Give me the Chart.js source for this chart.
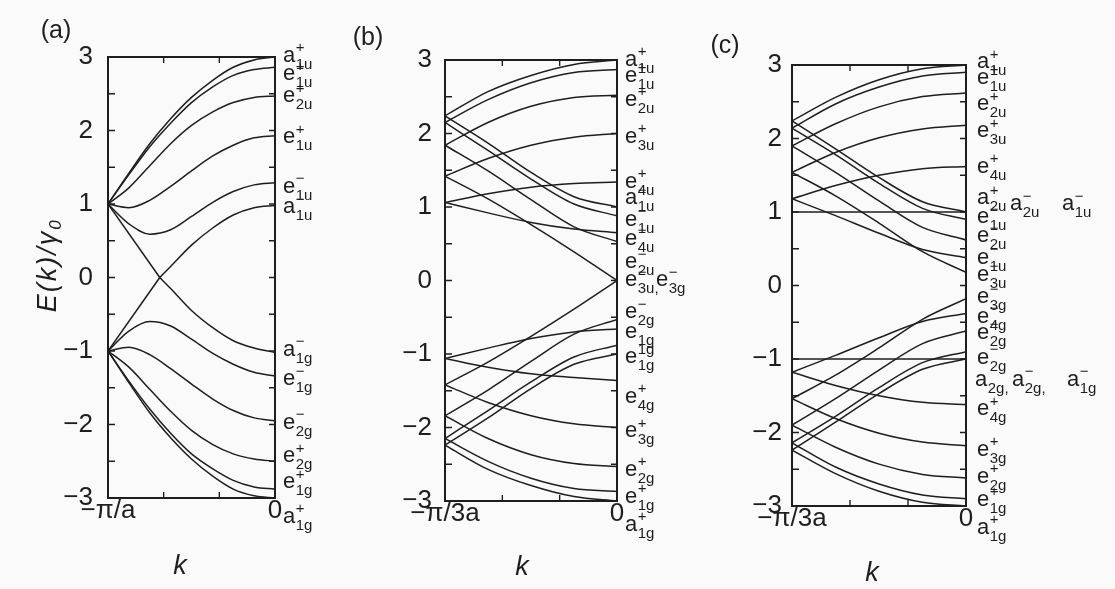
<!DOCTYPE html>
<html>
<head>
<meta charset="utf-8">
<script src="https://cdn.jsdelivr.net/npm/chart.js@4.4.1/dist/chart.umd.min.js"></script>
<style>
  html, body { margin: 0; padding: 0; background: #fafafa; }
  #wrap { position: relative; width: 1115px; height: 589px; overflow: hidden; }
  canvas { position: absolute; top: 0; }
</style>
</head>
<body>
<div id="wrap">
  <canvas id="panelA" width="345" height="589" style="left:0px;width:345px;height:589px"></canvas>
  <canvas id="panelB" width="370" height="589" style="left:345px;width:370px;height:589px"></canvas>
  <canvas id="panelC" width="415" height="589" style="left:700px;width:415px;height:589px"></canvas>
</div>
<script>
// ---- panel (a): k from -pi/a to 0 ----
const kA = [-1, -0.875, -0.75, -0.625, -0.5, -0.375, -0.25, -0.125, 0];
const a_a1uP = [1, 1.42, 1.82, 2.16, 2.45, 2.68, 2.86, 2.96, 3.0];
const a_e1uP = [1, 1.40, 1.78, 2.10, 2.38, 2.59, 2.75, 2.83, 2.86];
const a_e2uP = [1, 1.22, 1.52, 1.82, 2.07, 2.25, 2.38, 2.45, 2.47];
const a_e1uP2 = [1, 0.95, 1.05, 1.24, 1.45, 1.65, 1.8, 1.9, 1.93];
const a_e1uM = [1, 0.73, 0.59, 0.65, 0.83, 1.02, 1.17, 1.26, 1.29];
const a_a1gP = [-1, -1.43, -1.84, -2.18, -2.47, -2.7, -2.88, -2.97, -3.0];
const a_e1gP = [-1, -1.41, -1.79, -2.12, -2.4, -2.6, -2.76, -2.85, -2.88];
const a_e2gP = [-1, -1.22, -1.52, -1.82, -2.08, -2.27, -2.4, -2.47, -2.5];
const a_e2gM = [-1, -0.95, -1.05, -1.24, -1.45, -1.65, -1.81, -1.91, -1.95];
const a_e1gM = [-1, -0.73, -0.6, -0.66, -0.84, -1.03, -1.18, -1.29, -1.34];
// the two bands touching zero (split at the corner)
const kAv = [-1, -0.69];
const a_a1uM_in = [1, 0];
const a_a1gM_in = [-1, 0];
const kAw = [-0.69, -0.625, -0.5, -0.375, -0.25, -0.125, 0];
const a_a1uM = [0, 0.15, 0.44, 0.67, 0.85, 0.95, 0.98];
const a_a1gM = [0, -0.15, -0.45, -0.68, -0.86, -0.96, -1.02];

// ---- panel (b): k from -pi/3a to 0 ----
const kB = [-1, -0.75, -0.5, -0.25, 0];
const b_a1uP = [2.24, 2.57, 2.79, 2.94, 3.0];
const b_e1uP = [2.15, 2.46, 2.69, 2.83, 2.87];
const b_e2uP = [1.84, 2.15, 2.37, 2.49, 2.52];
const b_e3uP = [1.42, 1.66, 1.84, 1.95, 2.0];
const b_e4uP = [1.06, 1.18, 1.27, 1.32, 1.34];
const b_a1uM = [2.24, 1.87, 1.47, 1.14, 1.0];
const b_e1uM = [2.15, 1.77, 1.38, 1.04, 0.88];
const b_e2uM = [1.84, 1.49, 1.1, 0.73, 0.53];
const b_e3uM = [1.42, 1.11, 0.76, 0.39, 0.0];
const b_e4uM = [1.06, 0.92, 0.79, 0.7, 0.65];
const b_a1gP = [-2.24, -2.57, -2.79, -2.94, -3.0];
const b_e1gP = [-2.15, -2.46, -2.69, -2.83, -2.87];
const b_e2gP = [-1.84, -2.15, -2.37, -2.49, -2.53];
const b_e3gP = [-1.42, -1.66, -1.84, -1.95, -2.0];
const b_e4gP = [-1.06, -1.18, -1.27, -1.32, -1.36];
const b_a1gM = [-2.24, -1.87, -1.47, -1.14, -1.0];
const b_e1gM = [-2.15, -1.77, -1.38, -1.04, -0.88];
const b_e2gM = [-1.84, -1.49, -1.1, -0.73, -0.53];
const b_e3gM = [-1.42, -1.11, -0.76, -0.39, 0.0];
const b_e4gM = [-1.06, -0.92, -0.79, -0.7, -0.66];

// ---- panel (c): k from -pi/3a to 0 ----
const kC = [-1, -0.75, -0.5, -0.25, 0];
const c_a1uP = [2.24, 2.56, 2.8, 2.95, 3.0];
const c_e1uP = [2.14, 2.47, 2.7, 2.85, 2.9];
const c_e2uP = [1.9, 2.2, 2.43, 2.57, 2.62];
const c_e3uP = [1.54, 1.81, 2.01, 2.13, 2.18];
const c_e4uP = [1.18, 1.36, 1.5, 1.59, 1.62];
const c_a2u = [1, 1, 1, 1, 1];
const c_a1uM = [2.24, 1.86, 1.47, 1.14, 1.0];
const c_e1uM = [2.14, 1.78, 1.39, 1.05, 0.9];
const c_e2uM = [1.9, 1.54, 1.15, 0.79, 0.62];
const c_e3uM = [1.54, 1.22, 0.85, 0.46, 0.18];
const c_e4uM = [1.18, 0.95, 0.71, 0.49, 0.38];
const c_a1gP = [-2.24, -2.56, -2.8, -2.95, -3.0];
const c_e1gP = [-2.14, -2.47, -2.7, -2.85, -2.9];
const c_e2gP = [-1.9, -2.2, -2.43, -2.57, -2.62];
const c_e3gP = [-1.54, -1.81, -2.01, -2.13, -2.18];
const c_e4gP = [-1.18, -1.36, -1.5, -1.59, -1.62];
const c_a2g = [-1, -1, -1, -1, -1];
const c_a1gM = [-2.24, -1.86, -1.47, -1.14, -1.0];
const c_e1gM = [-2.14, -1.78, -1.39, -1.05, -0.9];
const c_e2gM = [-1.9, -1.54, -1.15, -0.79, -0.62];
const c_e3gM = [-1.54, -1.22, -0.85, -0.46, -0.18];
const c_e4gM = [-1.18, -0.95, -0.71, -0.49, -0.38];

// band labels on the right: [letter, sup, sub, energy, x shift]
const labelsA = [
  ['a', '+', '1u', 3.01], ['e', '+', '1u', 2.76], ['e', '+', '2u', 2.46],
  ['e', '+', '1u', 1.90], ['e', '−', '1u', 1.23], ['a', '−', '1u', 0.95],
  ['a', '−', '1g', -0.99], ['e', '−', '1g', -1.39], ['e', '−', '2g', -1.98],
  ['e', '+', '2g', -2.44], ['e', '+', '1g', -2.79], ['a', '+', '1g', -3.26]
];
const labelsB = [
  ['a', '+', '1u', 3.0], ['e', '+', '1u', 2.78], ['e', '+', '2u', 2.45],
  ['e', '+', '3u', 1.95], ['e', '+', '4u', 1.34], ['a', '−', '1u', 1.11],
  ['e', '−', '1u', 0.82], ['e', '−', '4u', 0.56], ['e', '−', '2u', 0.24],
  ['e', '−', '3u,', 0.0], ['e', '−', '3g', 0.0, 31],
  ['e', '−', '2g', -0.44], ['e', '', '1g', -0.71], ['e', '1g', '1g', -1.05],
  ['e', '+', '4g', -1.59], ['e', '+', '3g', -2.06], ['e', '+', '2g', -2.58],
  ['e', '+', '1g', -2.95], ['a', '+', '1g', -3.33]
];
const labelsC = [
  ['a', '+', '1u', 3.03], ['e', '+', '1u', 2.82], ['e', '+', '2u', 2.46],
  ['e', '+', '3u', 2.09], ['e', '+', '4u', 1.61], ['a', '+', '2u', 1.18],
  ['a', '−', '2u', 1.10, 33], ['a', '−', '1u', 1.10, 85],
  ['e', '−', '1u', 0.92], ['e', '−', '2u', 0.66], ['e', '−', '1u', 0.37],
  ['e', '−', '3u', 0.14], ['e', '−', '3g', -0.17], ['e', '−', '4g', -0.43],
  ['e', '−', '2g', -0.65], ['e', '−', '2g', -0.99],
  ['a', '', '2g,', -1.29, -2], ['a', '−', '2g,', -1.29, 35], ['a', '−', '1g', -1.29, 90],
  ['e', '+', '4g', -1.69], ['e', '+', '3g', -2.24], ['e', '+', '2g', -2.61],
  ['e', '+', '1g', -2.92], ['a', '+', '1g', -3.3]
];

const INK = '#1e1e1e';
const FONT = '"Liberation Sans", Arial, Helvetica, sans-serif';

function series(ks, vs) {
  return ks.map((k, i) => ({x: k, y: vs[i]}));
}

function makeDatasets(ks, list) {
  return list.map(vs => ({
    data: series(ks, vs),
    borderColor: INK,
    borderWidth: 1.5,
    pointRadius: 0,
    fill: false,
    cubicInterpolationMode: 'monotone'
  }));
}

function drawLabel(ctx, x, y, base, sup, sub) {
  ctx.textAlign = 'left';
  ctx.textBaseline = 'alphabetic';
  ctx.font = '22px ' + FONT;
  ctx.fillText(base, x, y + 5.5);
  const w = ctx.measureText(base).width + 0.5;
  ctx.font = '15px ' + FONT;
  if (sup) ctx.fillText(sup, x + w, y - 4);
  if (sub) ctx.fillText(sub, x + w, y + 12.5);
}

// frame, inward ticks, labels and other text
function makeDecor(s) {
  return {
    id: 'decor',
    afterDraw(chart) {
      const ctx = chart.ctx;
      const {left, right, top, bottom} = chart.chartArea;
      const xs = chart.scales.x, ys = chart.scales.y;
      ctx.save();
      ctx.strokeStyle = INK;
      ctx.fillStyle = INK;
      ctx.lineWidth = 2;
      ctx.strokeRect(left, top, right - left, bottom - top);

      ctx.lineWidth = 1.4;
      ctx.beginPath();
      for (let v = -2.5; v <= 2.5; v += 0.5) {
        const py = ys.getPixelForValue(v);
        ctx.moveTo(left, py); ctx.lineTo(left + 7, py);
        ctx.moveTo(right, py); ctx.lineTo(right - 6, py);
      }
      [-2 / 3, -1 / 3].forEach(f => {
        const px = xs.getPixelForValue(f);
        ctx.moveTo(px, top); ctx.lineTo(px, top + 6);
        ctx.moveTo(px, bottom); ctx.lineTo(px, bottom - 6);
      });
      ctx.stroke();

      ctx.font = '25px ' + FONT;
      ctx.textAlign = 'center';
      ctx.textBaseline = 'middle';
      ctx.fillText(s.tag, s.tagX, s.tagY);

      ctx.font = 'italic 27px ' + FONT;
      ctx.fillText('k', s.kX, s.kY);

      s.labels.forEach(l => {
        drawLabel(ctx, right + s.gap + (l[4] || 0), ys.getPixelForValue(l[3]), l[0], l[1], l[2]);
      });

      if (s.yTitle) {
        ctx.save();
        ctx.translate(47, 266);
        ctx.rotate(-Math.PI / 2);
        ctx.textAlign = 'left';
        ctx.textBaseline = 'alphabetic';
        ctx.letterSpacing = '2px';
        ctx.font = 'italic 27px ' + FONT;
        const main = 'E(k)/γ';
        const mw = ctx.measureText(main).width;
        const x0 = -(mw + 10) / 2;
        ctx.fillText(main, x0, 9);
        ctx.font = 'italic 17px ' + FONT;
        ctx.fillText('0', x0 + mw, 14);
        ctx.restore();
      }
      ctx.restore();
    }
  };
}

function makePanel(id, datasets, p) {
  return new Chart(document.getElementById(id), {
    type: 'line',
    data: { datasets: datasets },
    options: {
      responsive: false,
      animation: false,
      devicePixelRatio: 1,
      layout: { padding: { left: 0, right: p.padRight, top: p.padTop, bottom: 0 } },
      plugins: { legend: { display: false }, tooltip: { enabled: false } },
      scales: {
        x: {
          type: 'linear',
          min: -1,
          max: 0,
          afterBuildTicks: ax => { ax.ticks = [{value: -1}, {value: 0}]; },
          afterFit: ax => { ax.height = p.xH; },
          grid: { display: false, drawTicks: false },
          border: { display: false },
          ticks: {
            autoSkip: false,
            maxRotation: 0,
            padding: 0,
            color: INK,
            font: { size: 26, family: FONT, lineHeight: 1 },
            callback: v => (v === 0 ? '0' : p.kLabel)
          }
        },
        y: {
          min: -3,
          max: 3,
          afterFit: ax => { ax.width = p.yW; },
          grid: { display: false, drawTicks: false },
          border: { display: false },
          ticks: {
            stepSize: 1,
            padding: p.yPad,
            color: INK,
            font: { size: 26, family: FONT },
            callback: v => (v < 0 ? '−' + (-v) : String(v))
          }
        }
      }
    },
    plugins: [makeDecor(p.decor)]
  });
}

const dsA = makeDatasets(kA, [a_a1uP, a_e1uP, a_e2uP, a_e1uP2, a_e1uM, a_a1gP, a_e1gP, a_e2gP, a_e2gM, a_e1gM])
  .concat(makeDatasets(kAv, [a_a1uM_in, a_a1gM_in]))
  .concat(makeDatasets(kAw, [a_a1uM, a_a1gM]));

const dsB = makeDatasets(kB, [
  b_a1uP, b_e1uP, b_e2uP, b_e3uP, b_e4uP, b_a1uM, b_e1uM, b_e2uM, b_e3uM, b_e4uM,
  b_a1gP, b_e1gP, b_e2gP, b_e3gP, b_e4gP, b_a1gM, b_e1gM, b_e2gM, b_e3gM, b_e4gM
]);

const dsC = makeDatasets(kC, [
  c_a1uP, c_e1uP, c_e2uP, c_e3uP, c_e4uP, c_a2u, c_a1uM, c_e1uM, c_e2uM, c_e3uM, c_e4uM,
  c_a1gP, c_e1gP, c_e2gP, c_e3gP, c_e4gP, c_a2g, c_a1gM, c_e1gM, c_e2gM, c_e3gM, c_e4gM
]);

makePanel('panelA', dsA, {
  padRight: 70, padTop: 57, xH: 91, yW: 108, yPad: 15, kLabel: '−π/a',
  decor: { tag: '(a)', tagX: 56, tagY: 31, kX: 180, kY: 566, gap: 8, labels: labelsA, yTitle: true }
});
makePanel('panelB', dsB, {
  padRight: 98, padTop: 60, xH: 88, yW: 100, yPad: 13, kLabel: '−π/3a',
  decor: { tag: '(b)', tagX: 23, tagY: 38, kX: 177, kY: 567, gap: 8, labels: labelsB, yTitle: false }
});
makePanel('panelC', dsC, {
  padRight: 149, padTop: 65, xH: 83, yW: 92, yPad: 10, kLabel: '−π/3a',
  decor: { tag: '(c)', tagX: 25, tagY: 46, kX: 172, kY: 573, gap: 11, labels: labelsC, yTitle: false }
});
</script>
</body>
</html>
